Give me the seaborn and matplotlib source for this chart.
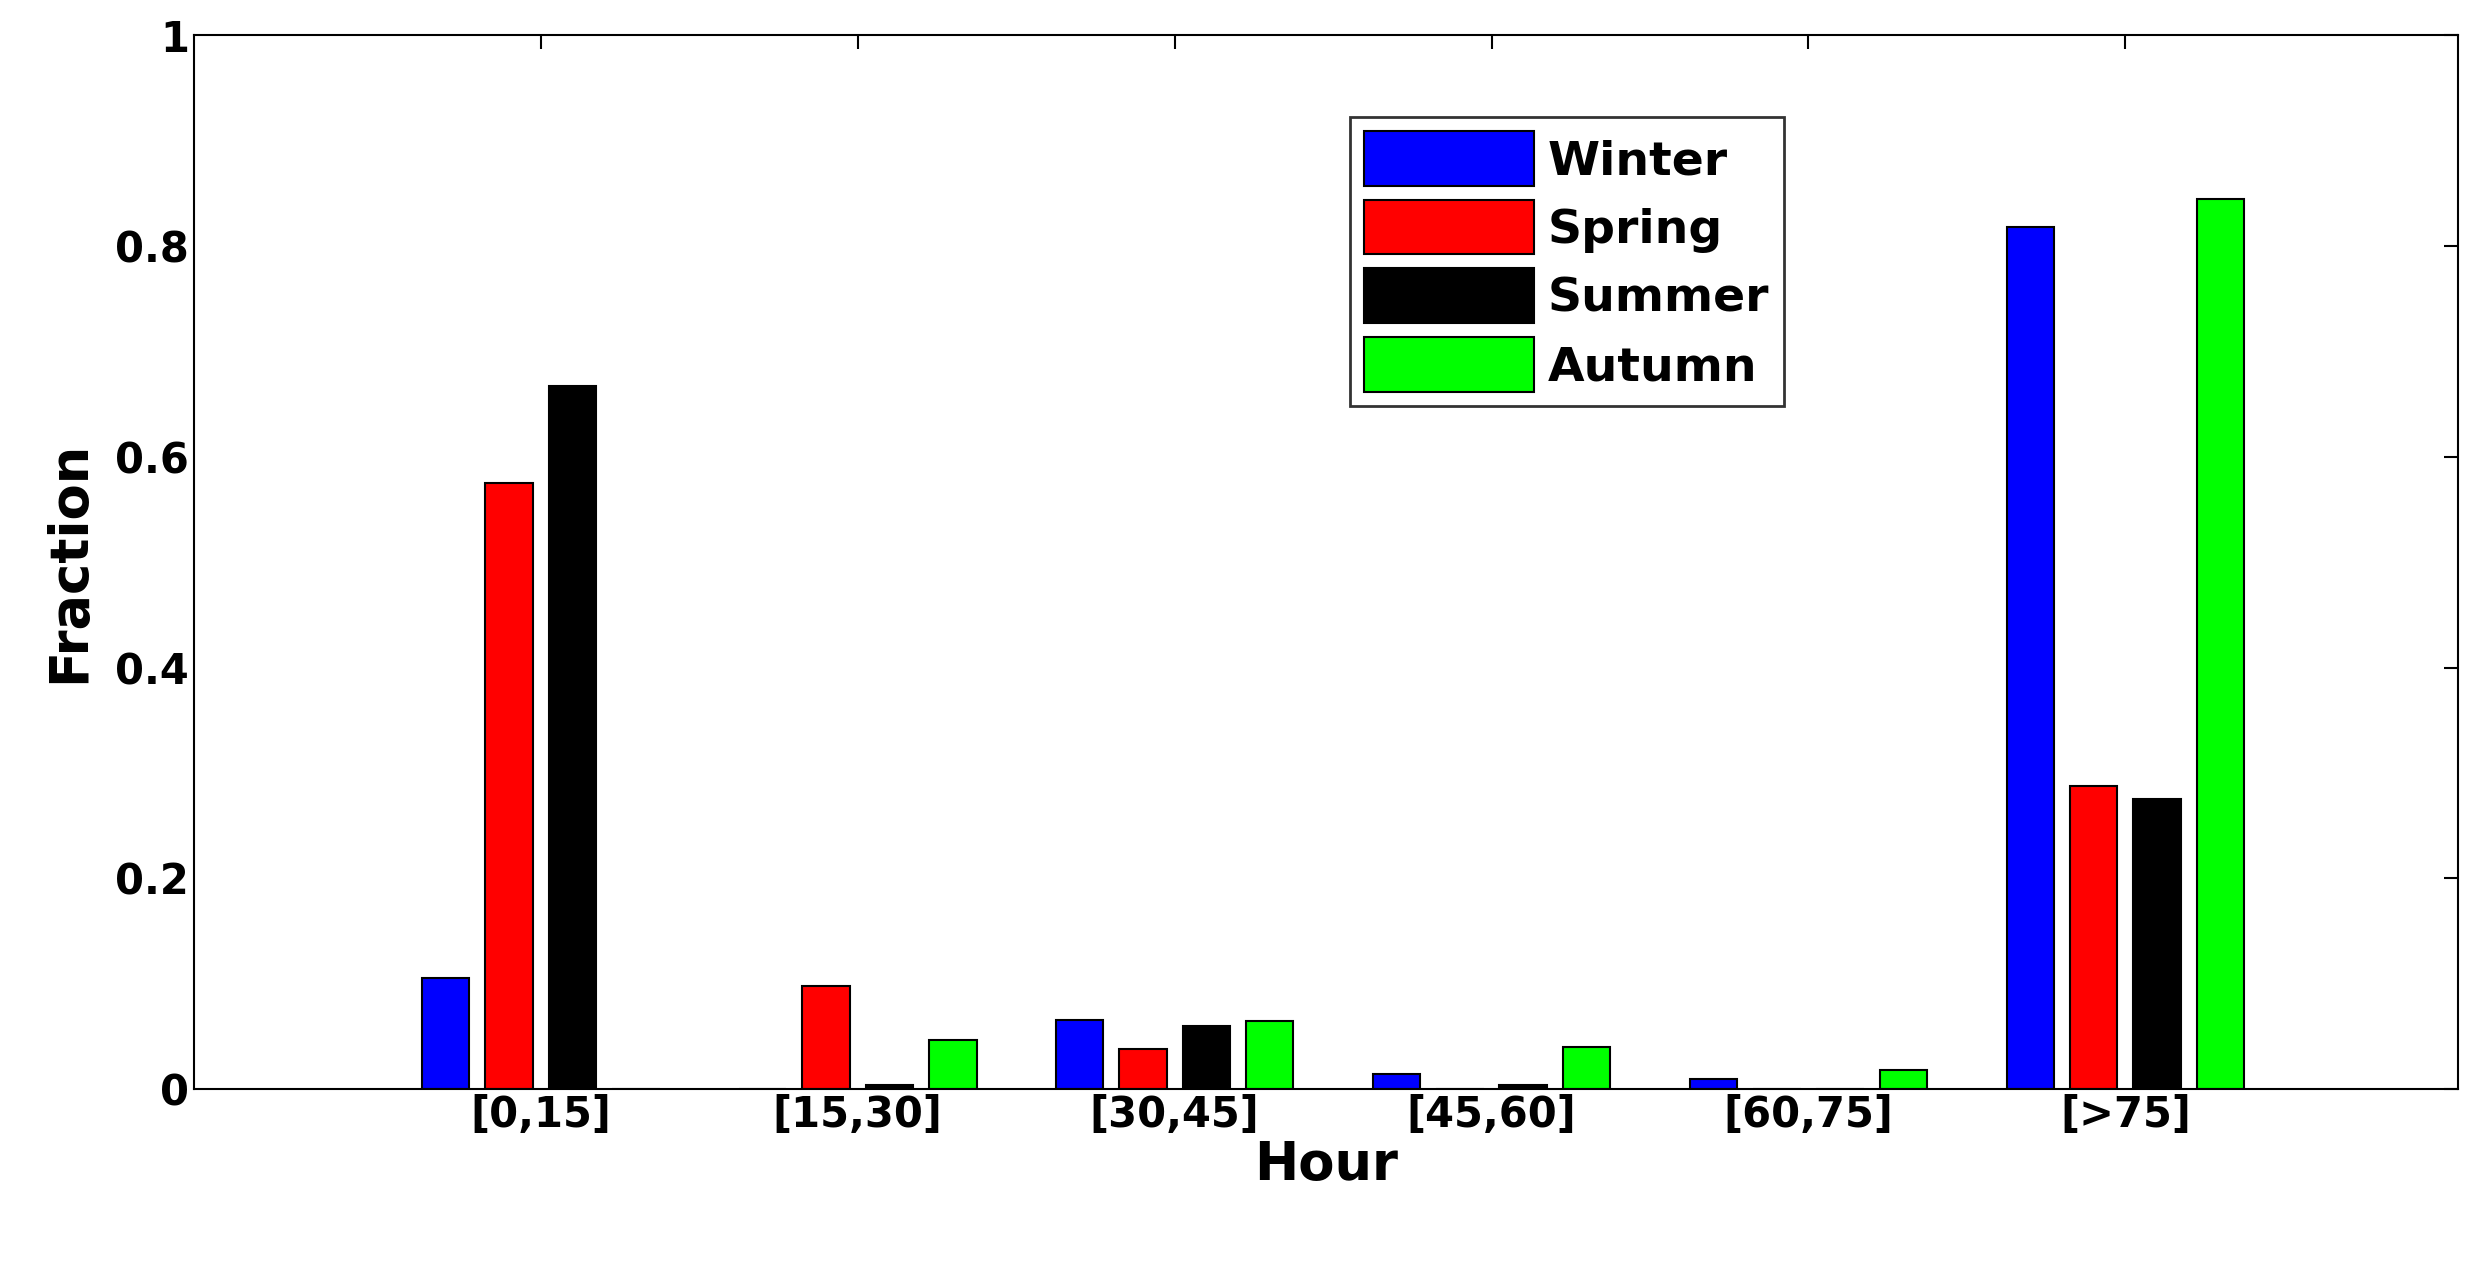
import pandas as pd
import matplotlib
matplotlib.use("Agg")
import matplotlib.pyplot as plt
import seaborn as sns

bins = ["[0,15]", "[15,30]", "[30,45]", "[45,60]", "[60,75]", "[>75]"]
seasons = ["Winter", "Spring", "Summer", "Autumn"]
winter = [0.105, 0.0, 0.066, 0.014, 0.010, 0.818]
spring = [0.575, 0.098, 0.038, 0.0, 0.0, 0.288]
summer = [0.667, 0.004, 0.060, 0.004, 0.0, 0.275]
autumn = [0.0, 0.047, 0.065, 0.040, 0.018, 0.845]
colors = ["#0000ff", "#ff0000", "#000000", "#00ff00"]

rows = []
for name, vals in zip(seasons, [winter, spring, summer, autumn]):
    for b, v in zip(bins, vals):
        rows.append({"Hour": b, "Fraction": v, "Season": name})
df = pd.DataFrame(rows)

sns.set_style("white")
plt.rcParams["font.family"] = ["DejaVu Sans"]
plt.rcParams["font.weight"] = "bold"
plt.rcParams["text.color"] = "black"
plt.rcParams["axes.labelcolor"] = "black"
plt.rcParams["xtick.color"] = "black"
plt.rcParams["ytick.color"] = "black"

fig = plt.figure(figsize=(24.83, 12.62), dpi=100)
ax = fig.add_axes([0.078, 0.137, 0.912, 0.835])
sns.barplot(data=df, x="Hour", y="Fraction", hue="Season", order=bins,
            hue_order=seasons, palette=colors, saturation=1, width=0.8, gap=0.25,
            edgecolor="black", linewidth=1.5, ax=ax)

ax.set_xlim(-1.095, 6.05)
ax.set_ylim(0, 1)
ax.set_yticks([0, 0.2, 0.4, 0.6, 0.8, 1])
ax.set_yticklabels(["0", "0.2", "0.4", "0.6", "0.8", "1"])
ax.tick_params(labelsize=30, direction="in", length=10, width=1.5, top=True, right=True)
for lab in ax.get_xticklabels() + ax.get_yticklabels():
    lab.set_fontweight("bold")
ax.set_xlabel("Hour", fontsize=38, fontweight="bold", labelpad=2)
ax.set_ylabel("Fraction", fontsize=38, fontweight="bold", labelpad=14)
for s in ax.spines.values():
    s.set_color("black")
    s.set_linewidth(1.5)

leg = ax.legend(loc="upper left", bbox_to_anchor=(0.50, 0.945),
                prop={"weight": "bold", "size": 34}, handlelength=3.6,
                handleheight=1.4, frameon=True, fancybox=False,
                edgecolor="black", borderpad=0.3, labelspacing=0.3,
                handletextpad=0.3)
leg.get_frame().set_linewidth(2)

fig.savefig("out.png", dpi=100)
